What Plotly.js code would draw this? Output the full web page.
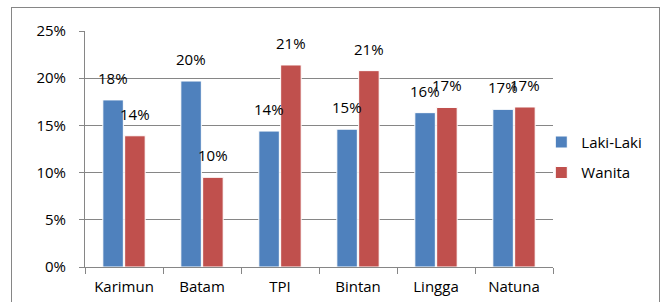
<!DOCTYPE html>
<html>
<head>
<meta charset="utf-8">
<script src="https://cdn.plot.ly/plotly-3.0.1.min.js"></script>
<style>
html,body{margin:0;padding:0;background:#fff;overflow:hidden;}
#wrap{position:relative;width:667px;height:302px;overflow:hidden;}
#chart{width:667px;height:302px;}
#frame{position:absolute;left:11px;top:7px;width:647px;height:320px;border:1.5px solid #868686;pointer-events:none;}
</style>
</head>
<body>
<div id="wrap"><div id="chart"></div><div id="frame"></div></div>
<script>
const categories = ["Karimun", "Batam", "TPI", "Bintan", "Lingga", "Natuna"];
const lakiLaki = [17.7, 19.7, 14.4, 14.6, 16.35, 16.7];
const wanita = [13.9, 9.5, 21.4, 20.8, 16.9, 16.95];
const seriesNames = ["Laki-Laki", "Wanita"];
const yTicks = [0, 5, 10, 15, 20, 25];

const FONT = "'Open Sans', Lato, sans-serif";
const FS = 15;
const blue = "#4F81BD", red = "#C0504D", grid = "#868686";

const traces = [
  {type: "bar", name: seriesNames[0], x: categories, y: lakiLaki, legendgroup: "a",
   marker: {color: blue, line: {color: "#ffffff", width: 1}}, hoverinfo: "none"},
  {type: "bar", name: seriesNames[1], x: categories, y: wanita, legendgroup: "b",
   marker: {color: red, line: {color: "#ffffff", width: 1}}, hoverinfo: "none"}
];

const annotations = [];
categories.forEach((c, i) => {
  [[lakiLaki, -11], [wanita, 11]].forEach(([arr, dx]) => {
    annotations.push({x: c, y: arr[i], xref: "x", yref: "y", text: Math.round(arr[i]) + "%",
      showarrow: false, xshift: dx, yshift: 22, font: {family: FONT, size: FS, color: "#000"}});
  });
});

const layout = {
  width: 667, height: 302,
  margin: {l: 85, r: 114, t: 31, b: 35},
  paper_bgcolor: "#fff", plot_bgcolor: "#fff",
  font: {family: FONT, size: FS, color: "#000"},
  bargap: 0.44, bargroupgap: 0.06,
  showlegend: true,
  legend: {x: 0.975, xanchor: "left", y: 0.465, yanchor: "middle", traceorder: "grouped",
    tracegroupgap: 8, font: {family: FONT, size: FS, color: "#000"}, itemwidth: 30,
    bgcolor: "rgba(0,0,0,0)"},
  xaxis: {type: "category", showline: true, linecolor: grid, linewidth: 1,
    ticks: "outside", tickson: "boundaries", ticklen: 6, tickcolor: grid,
    showgrid: false, ticklabelstandoff: 6, fixedrange: true},
  yaxis: {range: [0, 25], tickvals: yTicks, ticktext: yTicks.map(v => v + "%"),
    showline: true, linecolor: grid, linewidth: 1, ticks: "outside", ticklen: 5, tickcolor: grid,
    showgrid: true, gridcolor: grid, gridwidth: 1, zeroline: false, ticklabelstandoff: 10, fixedrange: true},
  annotations: annotations
};

Plotly.newPlot("chart", traces, layout, {displayModeBar: false, staticPlot: true});
</script>
</body>
</html>
